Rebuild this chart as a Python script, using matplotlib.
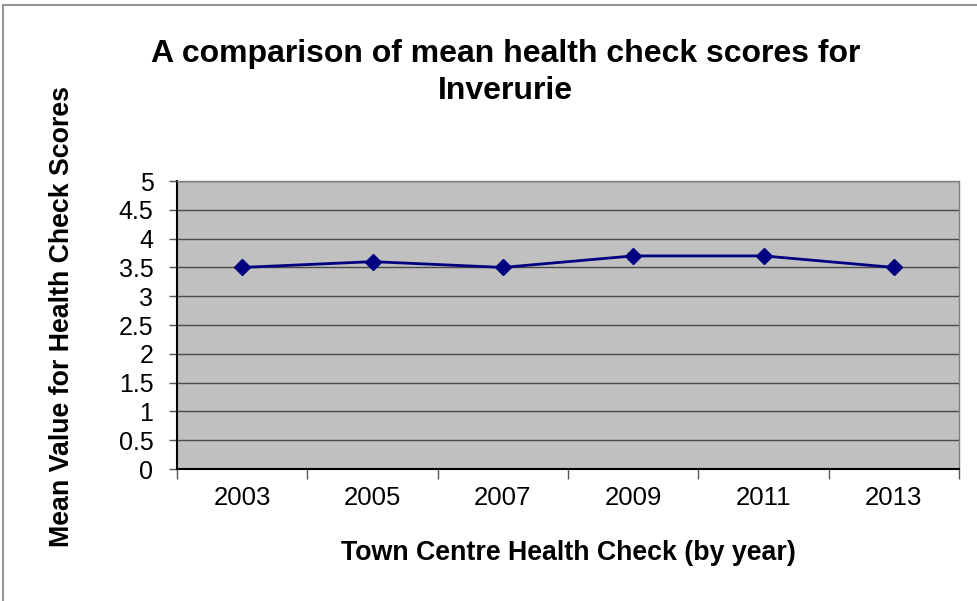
import numpy as np
import matplotlib.pyplot as plt
from matplotlib.patches import Rectangle

# données
annees = ["2003", "2005", "2007", "2009", "2011", "2013"]
scores = [3.5, 3.6, 3.5, 3.7, 3.7, 3.5]
yticks = [0, 0.5, 1, 1.5, 2, 2.5, 3, 3.5, 4, 4.5, 5]

plt.rcParams['font.family'] = ['Liberation Sans', 'DejaVu Sans']

fig = plt.figure(figsize=(9.78, 6.01), dpi=100)
ax = fig.add_axes([0.181, 0.2196, 0.7996, 0.4792])
ax.set_facecolor("#c0c0c0")

x = np.arange(len(annees))
ax.plot(x, scores, color="#000080", linewidth=2, marker="D", markersize=8, zorder=3)

ax.set_xlim(-0.5, len(annees) - 0.5)
ax.set_ylim(0, 5)
ax.set_yticks(yticks)
ax.set_yticklabels([("%g" % v) for v in yticks], fontsize=18)
ax.yaxis.grid(True, color="#4a4a4a", linewidth=1)
ax.set_axisbelow(True)

ax.set_xticks(x)
ax.set_xticklabels(annees, fontsize=18.5)
ax.tick_params(axis="x", which="major", length=0, pad=12)
ax.set_xticks(np.arange(-0.5, len(annees)), minor=True)
ax.tick_params(axis="x", which="minor", length=7, width=1, color="#555555")
ax.tick_params(axis="y", length=6, width=1, color="#555555", pad=11)

for s in ["left", "bottom"]:
    ax.spines[s].set_linewidth(1.5)
    ax.spines[s].set_color("black")
for s in ["top", "right"]:
    ax.spines[s].set_linewidth(1)
    ax.spines[s].set_color("#808080")

ax.set_xlabel("Town Centre Health Check (by year)", fontsize=19.3, fontweight="bold", labelpad=22)
ax.set_ylabel("Mean Value for Health Check Scores", fontsize=19.3, fontweight="bold")
ax.yaxis.set_label_coords(-0.13, 0.531)

fig.text(0.517, 0.935, "A comparison of mean health check scores for\nInverurie",
         ha="center", va="top", fontsize=23, fontweight="bold", linespacing=1.3)

# cadre extérieur
fig.patches.append(Rectangle((0.003, -0.01), 1.2, 1.0025, transform=fig.transFigure,
                             fill=False, edgecolor="#808080", linewidth=1.2))

fig.savefig("out.png", dpi=100)
